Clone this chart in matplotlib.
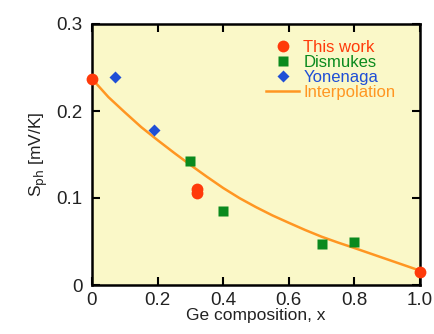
import matplotlib
matplotlib.use("Agg")
import matplotlib.pyplot as plt

# Data
this_work_x = [0.0, 0.32, 0.32, 1.0]
this_work_y = [0.237, 0.106, 0.110, 0.0155]

dismukes_x = [0.3, 0.4, 0.7, 0.8]
dismukes_y = [0.1425, 0.085, 0.0475, 0.049]

yonenaga_x = [0.07, 0.19]
yonenaga_y = [0.239, 0.178]

interp_x = [0.0, 0.05, 0.1, 0.15, 0.2, 0.25, 0.3, 0.35, 0.4, 0.45, 0.5,
            0.55, 0.6, 0.65, 0.7, 0.75, 0.8, 0.85, 0.9, 0.95, 1.0]
interp_y = [0.237, 0.216, 0.1985, 0.1815, 0.1665, 0.152, 0.138, 0.1245, 0.1115,
            0.0998, 0.0895, 0.0800, 0.0715, 0.0632, 0.0555, 0.0488, 0.0425,
            0.0360, 0.0295, 0.0230, 0.0165]

xticks = [0, 0.2, 0.4, 0.6, 0.8, 1.0]
xticklabels = ["0", "0.2", "0.4", "0.6", "0.8", "1.0"]
yticks = [0, 0.1, 0.2, 0.3]
yticklabels = ["0", "0.1", "0.2", "0.3"]

plt.rcParams['font.family'] = ['Liberation Sans', 'DejaVu Sans']

fig = plt.figure(figsize=(4.35, 3.34), dpi=100)
ax = fig.add_axes([92/435, 1-285/334, (420-92)/435, (285-24)/334])
ax.set_facecolor('#FAF8C8')

red = '#FF3A0A'
green = '#0A8A1E'
blue = '#1F4FD6'
orange = '#FF9622'

ax.plot(interp_x, interp_y, color=orange, lw=1.8, label='Interpolation', zorder=2,
        solid_joinstyle='round')
ax.plot(this_work_x, this_work_y, 'o', color=red, ms=8.5, mec='none', label='This work', zorder=4, clip_on=False)
ax.plot(dismukes_x, dismukes_y, 's', color=green, ms=6.5, mec='none', label='Dismukes', zorder=3)
ax.plot(yonenaga_x, yonenaga_y, 'D', color=blue, ms=6.5, mec='none', label='Yonenaga', zorder=3)

ax.set_xlim(0, 1.0)
ax.set_ylim(0, 0.3)
ax.set_xticks(xticks)
ax.set_xticklabels(xticklabels)
ax.set_yticks(yticks)
ax.set_yticklabels(yticklabels)

textc = '#222222'
ax.tick_params(direction='in', length=6, width=1.5, top=True, right=True,
               labelsize=13.5, colors='black', labelcolor=textc)
ax.tick_params(axis='x', pad=5)
ax.tick_params(axis='y', pad=7)
for s in ax.spines.values():
    s.set_linewidth(1.8)

ax.set_xlabel('Ge composition, x', fontsize=12.5, color=textc, labelpad=-1)
ax.set_ylabel('S$_{\\mathrm{ph}}$ [mV/K]', fontsize=12.5, color=textc, labelpad=4)

handles, labels = ax.get_legend_handles_labels()
order = [1, 2, 3, 0]
leg = ax.legend([handles[i] for i in order], [labels[i] for i in order],
                loc='upper left', bbox_to_anchor=((266-92)/328, (285-40)/261),
                frameon=False, fontsize=12, borderpad=0, borderaxespad=0,
                handlelength=2.0, handletextpad=0.25, labelspacing=0.0,
                labelcolor='linecolor')

fig.savefig('out.png', dpi=100)
